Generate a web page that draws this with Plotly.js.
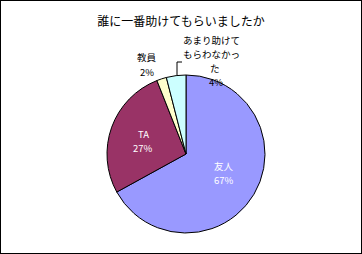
<!DOCTYPE html>
<html><head><meta charset="utf-8">
<script src="https://cdn.plot.ly/plotly-3.0.1.min.js"></script>
<style>body{margin:0;padding:0;background:#fff}#c{width:360px;height:252px;border:1px solid #000}</style>
</head><body><div id="c"></div>
<script>
const labels = ['友人', 'TA', '教員', 'あまり助けてもらわなかった'];
const values = [67, 27, 2, 4];
const colors = ['#9999FF', '#993366', '#FFFFCC', '#CCFFFF'];
const chartTitle = '誰に一番助けてもらいましたか';
const wrappedLabel3 = ['あまり助けて', 'もらわなかっ', 'た'];

const W = 360, H = 252;
const px = x => (x - 1) / W;
const py = y => 1 - (y - 1) / H;
const F = 'Noto Sans CJK JP, sans-serif';

const trace = {
  type: 'pie', labels: labels, values: values, sort: false, direction: 'clockwise', rotation: 0,
  marker: {colors: colors, line: {color: '#000', width: 1}},
  textinfo: 'none',
  hoverinfo: 'label+percent', showlegend: false,
  domain: {x: [px(107), px(265)], y: [py(233), py(75)]}
};

const ann = (t, x, y, c) => ({text: t, x: px(x), y: py(y), xref: 'paper', yref: 'paper', xanchor: 'center', yanchor: 'middle',
  showarrow: false, borderpad: 0, font: {size: 9.5, family: F, color: c || '#000'}});

const annotations = [
  ann(labels[0], 224, 166, '#fff'), ann(values[0] + '%', 224, 180, '#fff'),
  ann(labels[1], 143, 134, '#fff'), ann(values[1] + '%', 143, 148, '#fff'),
  ann(labels[2], 147, 57), ann(values[2] + '%', 147, 72),
  ann(wrappedLabel3[0], 211, 40), ann(wrappedLabel3[1], 211, 54), ann(wrappedLabel3[2], 215, 68), ann(values[3] + '%', 216, 82)
];

const layout = {
  width: W, height: H, margin: {l: 0, r: 0, t: 0, b: 0},
  paper_bgcolor: '#fff',
  title: {text: chartTitle, x: 0.5, xanchor: 'center', y: py(22), yanchor: 'middle', font: {size: 12, family: F, color: '#000'}},
  annotations: annotations,
  shapes: [
    {type: 'line', xref: 'paper', yref: 'paper', x0: px(177), x1: px(182), y0: py(62), y1: py(62), line: {color: '#000', width: 1}},
    {type: 'line', xref: 'paper', yref: 'paper', x0: px(177), x1: px(177), y0: py(62), y1: py(75), line: {color: '#000', width: 1}}
  ]
};
Plotly.newPlot('c', [trace], layout, {displayModeBar: false, staticPlot: true});
</script></body></html>
